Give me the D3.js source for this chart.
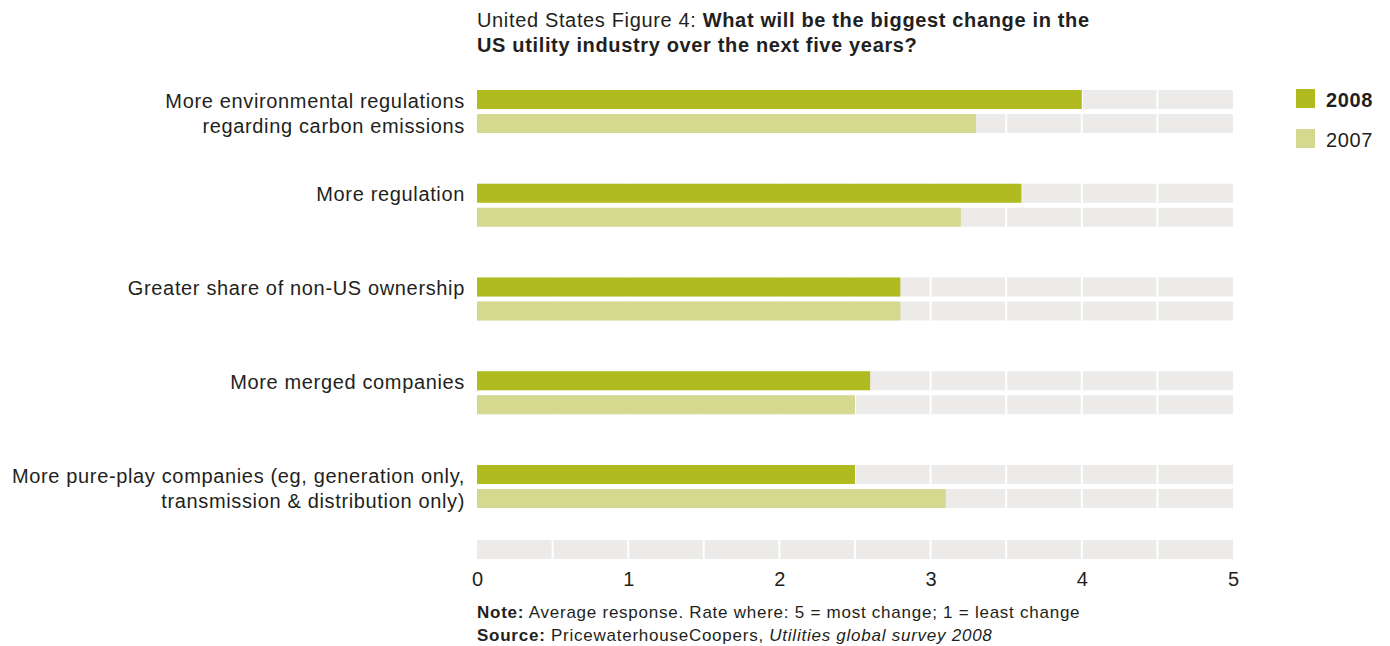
<!DOCTYPE html>
<html><head><meta charset="utf-8">
<script src="https://cdn.jsdelivr.net/npm/d3@7"></script>
<style>body{margin:0;background:#fff;font-family:"Liberation Sans",Arial,Helvetica,sans-serif;}</style>
</head><body><svg id="c" width="1390" height="646"></svg>
<script>
const categories = [
  ["More environmental regulations","regarding carbon emissions"],
  ["More regulation"],
  ["Greater share of non-US ownership"],
  ["More merged companies"],
  ["More pure-play companies (eg, generation only,","transmission & distribution only)"]
];
const values2008 = [4.0, 3.6, 2.8, 2.6, 2.5];
const values2007 = [3.3, 3.2, 2.8, 2.5, 3.1];
const seriesNames = ["2008","2007"];
const tickValues = [0,1,2,3,4,5];

const colors = {"2008":"#b0bb1f","2007":"#d5d88f"};
const gray = "#ecebe9", textCol = "#231f20";
const FS = 20, LS = 0.65;

const svg = d3.select("#c");
const x = d3.scaleLinear().domain([0,5]).range([477,1233]);
const y = d3.scaleBand().domain(d3.range(categories.length)).range([90, 90+93.75*5]);
const barH = 19;

const halfSteps = d3.range(0,5,0.5);
function bgRow(yy){
  svg.append("g").selectAll("rect").data(halfSteps).join("rect")
    .attr("x", d => x(d) + (d>0?1:0))
    .attr("width", d => x(d+0.5) - (d+0.5<5?1:0) - (x(d) + (d>0?1:0)))
    .attr("y", yy).attr("height", barH).attr("fill", gray);
}
const rows = [];
categories.forEach((c,i)=>{
  seriesNames.forEach((s,j)=>{
    rows.push({i, s, v: s==="2008"?values2008[i]:values2007[i], yy: y(i) + j*24});
  });
});
rows.forEach(r=>bgRow(r.yy));
bgRow(540);

svg.append("g").selectAll("rect").data(rows).join("rect")
  .attr("x", x(0)).attr("y", d=>d.yy).attr("height", barH)
  .attr("width", d=>x(d.v)-x(0)).attr("fill", d=>colors[d.s]);

// category labels
const lab = svg.append("g").attr("font-size",FS).attr("letter-spacing",LS).attr("fill",textCol).attr("text-anchor","end");
categories.forEach((lines,i)=>{
  lines.forEach((t,k)=>{
    lab.append("text").attr("x",465).attr("y", y(i) + k*25 + barH/2 + 1).attr("dy","0.35em").text(t);
  });
});

// axis
const axis = d3.axisBottom(x).tickValues(tickValues).tickSize(0).tickPadding(0).tickFormat(d3.format("d"));
const ag = svg.append("g").attr("transform","translate(0,572)").call(axis);
ag.select(".domain").remove();
ag.selectAll("text").attr("font-size",FS).attr("fill",textCol).attr("font-family","Liberation Sans, Arial, sans-serif").attr("dy","0.71em");

// title
const tt = svg.append("text").attr("x",477).attr("y",27).attr("font-size",FS).attr("letter-spacing",LS).attr("fill",textCol);
tt.append("tspan").text("United States Figure 4: ");
tt.append("tspan").attr("font-weight","bold").text("What will be the biggest change in the");
svg.append("text").attr("x",477).attr("y",52).attr("font-size",FS).attr("letter-spacing",LS).attr("font-weight","bold").attr("fill",textCol)
  .text("US utility industry over the next five years?");

// legend
const lg = svg.append("g");
seriesNames.forEach((s,j)=>{
  lg.append("rect").attr("x",1296).attr("y",89+j*40).attr("width",19).attr("height",19).attr("fill",colors[s]);
  lg.append("text").attr("x",1326).attr("y",99.5+j*40).attr("dy","0.35em").attr("font-size",FS).attr("letter-spacing",LS)
    .attr("font-weight", j===0?"bold":"normal").attr("fill",textCol).text(s);
});

// notes
const n1 = svg.append("text").attr("x",477).attr("y",618).attr("font-size",17).attr("letter-spacing",0.75).attr("fill",textCol);
n1.append("tspan").attr("font-weight","bold").text("Note:");
n1.append("tspan").text(" Average response. Rate where: 5 = most change; 1 = least change");
const n2 = svg.append("text").attr("x",477).attr("y",641).attr("font-size",17).attr("letter-spacing",0.75).attr("fill",textCol);
n2.append("tspan").attr("font-weight","bold").text("Source:");
n2.append("tspan").text(" PricewaterhouseCoopers, ");
n2.append("tspan").attr("font-style","italic").text("Utilities global survey 2008");
</script></body></html>
